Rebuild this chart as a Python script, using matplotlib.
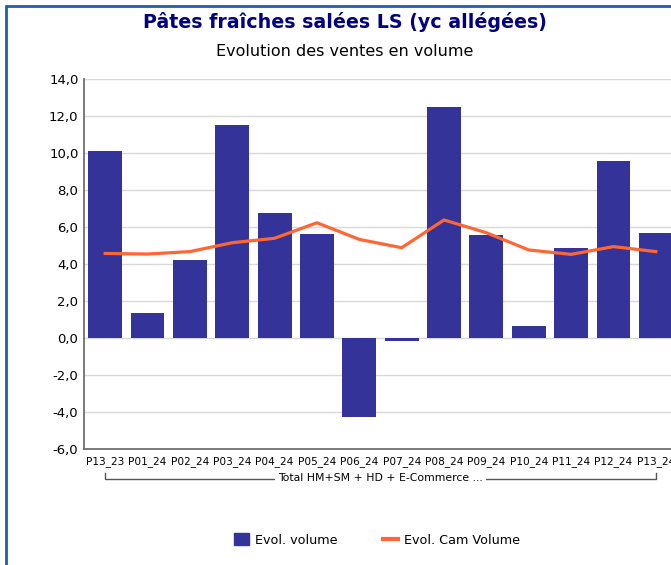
import numpy as np
import matplotlib.pyplot as plt
from matplotlib.patches import Rectangle
from matplotlib.lines import Line2D
import matplotlib.transforms as mtransforms

# données
periodes = ['P13_23', 'P01_24', 'P02_24', 'P03_24', 'P04_24', 'P05_24', 'P06_24',
            'P07_24', 'P08_24', 'P09_24', 'P10_24', 'P11_24', 'P12_24', 'P13_24']
evol_volume = [10.1, 1.35, 4.2, 11.5, 6.75, 5.6, -4.25,
               -0.15, 12.5, 5.55, 0.65, 4.85, 9.55, 5.65]
evol_cam = [4.57, 4.54, 4.67, 5.15, 5.39, 6.23, 5.33,
            4.88, 6.38, 5.69, 4.76, 4.52, 4.94, 4.67]
y_ticks = np.arange(-6, 15, 2)
groupe = 'Total HM+SM + HD + E-Commerce ...'

W, H = 671, 565
fig = plt.figure(figsize=(W / 100, H / 100), dpi=100)

# cadre bleu
fig.patches.append(Rectangle((6 / W, -0.1), 1.2, 1 - 6 / H + 0.1, transform=fig.transFigure,
                             fill=False, edgecolor='#1a5fb4', linewidth=2))

ax = fig.add_axes([84 / W, 1 - 449 / H, (677 - 84) / W, (449 - 79) / H])
x = np.arange(len(periodes))
ax.bar(x, evol_volume, width=0.8, color='#333399', zorder=2)
ax.plot(x, evol_cam, color='#ff6633', linewidth=2.3, zorder=3)

ax.set_xlim(-0.5, len(periodes) - 0.5)
ax.set_ylim(-6, 14)
ax.set_yticks(y_ticks)
ax.set_yticklabels([f'{v:.1f}'.replace('.', ',') for v in y_ticks], fontsize=9.5)
ax.set_xticks(x)
ax.set_xticklabels(periodes, fontsize=7.6)
ax.tick_params(length=0, pad=4)
ax.tick_params(axis='x', pad=5)
ax.grid(axis='y', color='#d9d9d9', linewidth=1, zorder=0)
for s in ['top', 'right']:
    ax.spines[s].set_visible(False)
for s in ['left', 'bottom']:
    ax.spines[s].set_color('#6e6e6e')
    ax.spines[s].set_linewidth(1.3)

# accolade du groupe sous les étiquettes
tr = mtransforms.blended_transform_factory(ax.transData, fig.transFigure)
yb = 1 - 479 / H
yt = 1 - 473 / H
ax.plot([0, 0, 13, 13], [yt, yb, yb, yt], transform=tr, color='#555555',
        linewidth=1, clip_on=False)
ax.text(6.5, yb + 0.002, groupe, transform=tr, ha='center', va='center', fontsize=7.8,
        bbox=dict(facecolor='white', edgecolor='none', pad=2.5))

fig.text(345 / W, 1 - 22 / H, 'Pâtes fraîches salées LS (yc allégées)', ha='center',
         va='center', fontsize=13.7, fontweight='bold', color='#000080')
fig.text(345 / W, 1 - 52 / H, 'Evolution des ventes en volume', ha='center', va='center',
         fontsize=11.5)

handles = [Rectangle((0, 0), 1, 1, color='#333399'),
           Line2D([0], [0], color='#ff6633', linewidth=3)]
fig.legend(handles, ['Evol. volume', 'Evol. Cam Volume'], loc='center',
           bbox_to_anchor=(377 / W, 1 - 540 / H), ncol=2, frameon=False, fontsize=9.2,
           handlelength=1.2, handleheight=1.0, handletextpad=0.5, columnspacing=3.5)

fig.savefig('out.png', dpi=100)
